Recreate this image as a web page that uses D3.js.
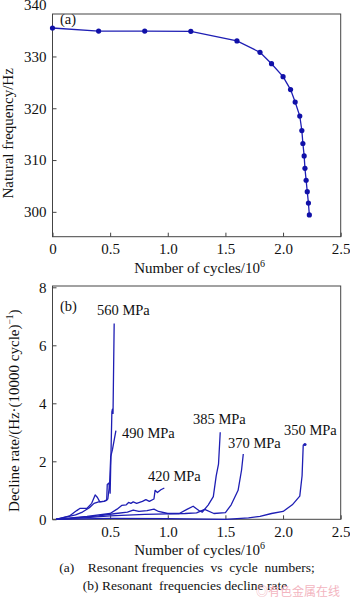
<!DOCTYPE html>
<html>
<head>
<meta charset="utf-8">
<script src="https://cdn.jsdelivr.net/npm/d3@7"></script>
<style>
  body { margin: 0; background: #fff; }
  text { font-family: 'Liberation Serif', 'Times New Roman', serif; fill: #111; }
</style>
</head>
<body>
<div id="chart"></div>
<script>
// (a) natural frequency vs cycles
const cyclesA = [0, 0.4, 0.8, 1.2, 1.6, 1.8, 1.9, 2.0, 2.065, 2.105, 2.145, 2.163, 2.172, 2.183, 2.19, 2.2, 2.21, 2.22, 2.228]
const freqA = [335.5, 334.9, 334.9, 334.85, 333.0, 330.8, 328.6, 326.1, 323.6, 321.2, 318.5, 315.7, 313.2, 310.8, 308.4, 306.1, 303.9, 301.7, 299.4]
const freqTicks = [300, 310, 320, 330, 340]
const cycleTicks = [0, 0.5, 1.0, 1.5, 2.0, 2.5]

// (b) decline rate curves, one per stress level
const stressLabels = ['560 MPa', '490 MPa', '420 MPa', '385 MPa', '370 MPa', '350 MPa']
const rate560 = [[0.03, 0], [0.15, 0.12], [0.21, 0.3], [0.24, 0.38], [0.3, 0.38], [0.34, 0.55], [0.37, 0.84], [0.39, 0.75], [0.41, 0.6], [0.45, 0.63], [0.47, 0.65], [0.475, 1.2], [0.49, 1.25], [0.5, 0.9], [0.515, 3.7], [0.52, 3.8], [0.525, 3.65], [0.535, 6.75]]
const rate490 = [[0.03, 0], [0.2, 0.15], [0.26, 0.25], [0.32, 0.4], [0.36, 0.55], [0.4, 0.6], [0.45, 0.62], [0.48, 0.7], [0.495, 1.2], [0.505, 2.16], [0.52, 2.4], [0.55, 3.06]]
const rate420 = [[0.03, 0], [0.3, 0.1], [0.5, 0.2], [0.56, 0.35], [0.6, 0.48], [0.64, 0.5], [0.66, 0.58], [0.68, 0.55], [0.7, 0.6], [0.73, 0.55], [0.78, 0.62], [0.81, 0.68], [0.84, 0.62], [0.88, 0.7], [0.89, 1.0], [0.91, 0.92], [0.94, 1.02], [0.97, 1.08]]
const rate385 = [[0.03, 0], [0.2, 0.05], [0.4, 0.12], [0.55, 0.2], [0.65, 0.25], [0.7, 0.32], [0.75, 0.27], [0.82, 0.3], [0.88, 0.35], [0.92, 0.27], [1.0, 0.2], [1.1, 0.2], [1.17, 0.35], [1.22, 0.45], [1.27, 0.3], [1.3, 0.25], [1.35, 0.49], [1.395, 0.78], [1.42, 1.5], [1.44, 1.9], [1.455, 3.0]]
const rate370 = [[0.03, 0], [0.3, 0.06], [0.5, 0.12], [0.8, 0.17], [1.0, 0.19], [1.15, 0.2], [1.25, 0.22], [1.32, 0.34], [1.4, 0.2], [1.5, 0.23], [1.55, 0.5], [1.61, 1.0], [1.64, 1.7], [1.655, 2.25]]
const rate350 = [[0.03, 0], [0.5, 0.03], [1.0, 0.02], [1.5, 0.0], [1.7, 0.05], [1.8, 0.1], [1.9, 0.2], [2.0, 0.27], [2.08, 0.5], [2.145, 0.8], [2.165, 1.5], [2.175, 2.56], [2.19, 2.58]]
const rateSeries = [rate560, rate490, rate420, rate385, rate370, rate350]
const rateTicks = [0, 2, 4, 6, 8]

const width = 350
const height = 598
const left = 52.5
const right = 340.7
const blue = '#1e1eb4'

const svg = d3.select('#chart').append('svg')
  .attr('width', width)
  .attr('height', height)

const x = d3.scaleLinear().domain([0, 2.5]).range([left, right])

function frame (top, bottom) {
  svg.append('rect')
    .attr('x', left)
    .attr('y', top)
    .attr('width', right - left)
    .attr('height', bottom - top)
    .attr('fill', 'none')
    .attr('stroke', '#444')
    .attr('stroke-width', 1)
}

function styleAxis (g) {
  g.select('.domain').remove()
  g.selectAll('.tick line').attr('stroke', '#444')
  g.selectAll('.tick text')
    .style('font-family', "'Liberation Serif', serif")
    .style('font-size', '15px')
    .attr('fill', '#111')
}

// ---------- panel (a) ----------
const topA = 14
const bottomA = 236.7
const yA = d3.scaleLinear().domain([295.2, 338.2]).range([bottomA, topA])

frame(topA, bottomA)

svg.append('g')
  .attr('transform', `translate(0,${bottomA})`)
  .call(d3.axisBottom(x).tickValues(cycleTicks).tickSizeInner(-4).tickPadding(7)
    .tickFormat(d => d === 0 ? '0' : d3.format('.1f')(d)))
  .call(styleAxis)

svg.append('g')
  .attr('transform', `translate(${left},0)`)
  .call(d3.axisLeft(yA).tickValues(freqTicks).tickSizeInner(-4).tickPadding(6))
  .call(styleAxis)
  .call(g => g.selectAll('.tick').filter(d => d === 340).select('line').remove())

svg.append('path')
  .datum(cyclesA.map((c, i) => [c, freqA[i]]))
  .attr('fill', 'none')
  .attr('stroke', blue)
  .attr('stroke-width', 1.3)
  .attr('d', d3.line().x(d => x(d[0])).y(d => yA(d[1])))

svg.selectAll('.dotA')
  .data(cyclesA.map((c, i) => [c, freqA[i]]))
  .enter().append('circle')
  .attr('cx', d => x(d[0]))
  .attr('cy', d => yA(d[1]))
  .attr('r', 2.6)
  .attr('fill', '#1010a8')

svg.append('text').attr('x', 60).attr('y', 24).style('font-size', '14.5px').text('(a)')

const xTitleA = svg.append('text')
  .attr('x', (left + right) / 2 + 3)
  .attr('y', 273)
  .attr('text-anchor', 'middle')
  .style('font-size', '15px')
xTitleA.append('tspan').text('Number of cycles/10')
xTitleA.append('tspan').attr('dy', -6).style('font-size', '10px').text('6')

svg.append('text')
  .attr('transform', `translate(13,${(topA + bottomA) / 2 + 8}) rotate(-90)`)
  .attr('text-anchor', 'middle')
  .style('font-size', '15px')
  .text('Natural frequency/Hz')

// ---------- panel (b) ----------
const topB = 286
const bottomB = 519.3
const yB = d3.scaleLinear().domain([0, 8]).range([bottomB, 287.3])

frame(topB, bottomB)

svg.append('g')
  .attr('transform', `translate(0,${bottomB})`)
  .call(d3.axisBottom(x).tickValues(cycleTicks.slice(1)).tickSizeInner(-4).tickPadding(7)
    .tickFormat(d3.format('.1f')))
  .call(styleAxis)

svg.append('g')
  .attr('transform', `translate(${left},0)`)
  .call(d3.axisLeft(yB).tickValues(rateTicks).tickSizeInner(-4).tickPadding(6))
  .call(styleAxis)

const rateLine = d3.line().x(d => x(d[0])).y(d => yB(d[1]))

svg.selectAll('.rate')
  .data(rateSeries)
  .enter().append('path')
  .attr('fill', 'none')
  .attr('stroke', blue)
  .attr('stroke-width', 1.3)
  .attr('stroke-linejoin', 'round')
  .attr('d', rateLine)

// small end dot on the 350 MPa curve
svg.append('circle')
  .attr('cx', x(rate350[rate350.length - 1][0]))
  .attr('cy', yB(rate350[rate350.length - 1][1]))
  .attr('r', 1.6)
  .attr('fill', blue)

const labelPos = [[97, 315], [122, 438], [148, 481], [193, 424], [228, 448], [284, 435]]
svg.selectAll('.stress')
  .data(stressLabels)
  .enter().append('text')
  .attr('x', (d, i) => labelPos[i][0])
  .attr('y', (d, i) => labelPos[i][1])
  .style('font-size', '14.5px')
  .text(d => d)

svg.append('text').attr('x', 60).attr('y', 311).style('font-size', '14.5px').text('(b)')

const xTitleB = svg.append('text')
  .attr('x', (left + right) / 2 + 3)
  .attr('y', 555)
  .attr('text-anchor', 'middle')
  .style('font-size', '15px')
xTitleB.append('tspan').text('Number of cycles/10')
xTitleB.append('tspan').attr('dy', -6).style('font-size', '10px').text('6')

const yTitleB = svg.append('text')
  .attr('transform', `translate(19,${(topB + bottomB) / 2 + 8}) rotate(-90)`)
  .attr('text-anchor', 'middle')
  .style('font-size', '15px')
yTitleB.append('tspan').text('Decline rate/(Hz·(10000 cycle)')
yTitleB.append('tspan').attr('dy', -6).style('font-size', '9.5px').text('−1')
yTitleB.append('tspan').attr('dy', 6).text(')')

// caption
svg.append('text')
  .attr('x', 187).attr('y', 572)
  .attr('text-anchor', 'middle')
  .style('font-size', '13.5px')
  .style('white-space', 'pre')
  .text('(a)    Resonant frequencies  vs  cycle  numbers;')

svg.append('text')
  .attr('x', 185).attr('y', 590)
  .attr('text-anchor', 'middle')
  .style('font-size', '13.5px')
  .style('white-space', 'pre')
  .text('(b) Resonant  frequencies decline rate')

svg.append('text')
  .attr('x', 340).attr('y', 596)
  .attr('text-anchor', 'end')
  .style('font-family', "'Noto Sans CJK SC', sans-serif")
  .style('font-size', '12px')
  .style('fill', '#f3b5bf')
  .text('◎有色金属在线')
</script>
</body>
</html>
